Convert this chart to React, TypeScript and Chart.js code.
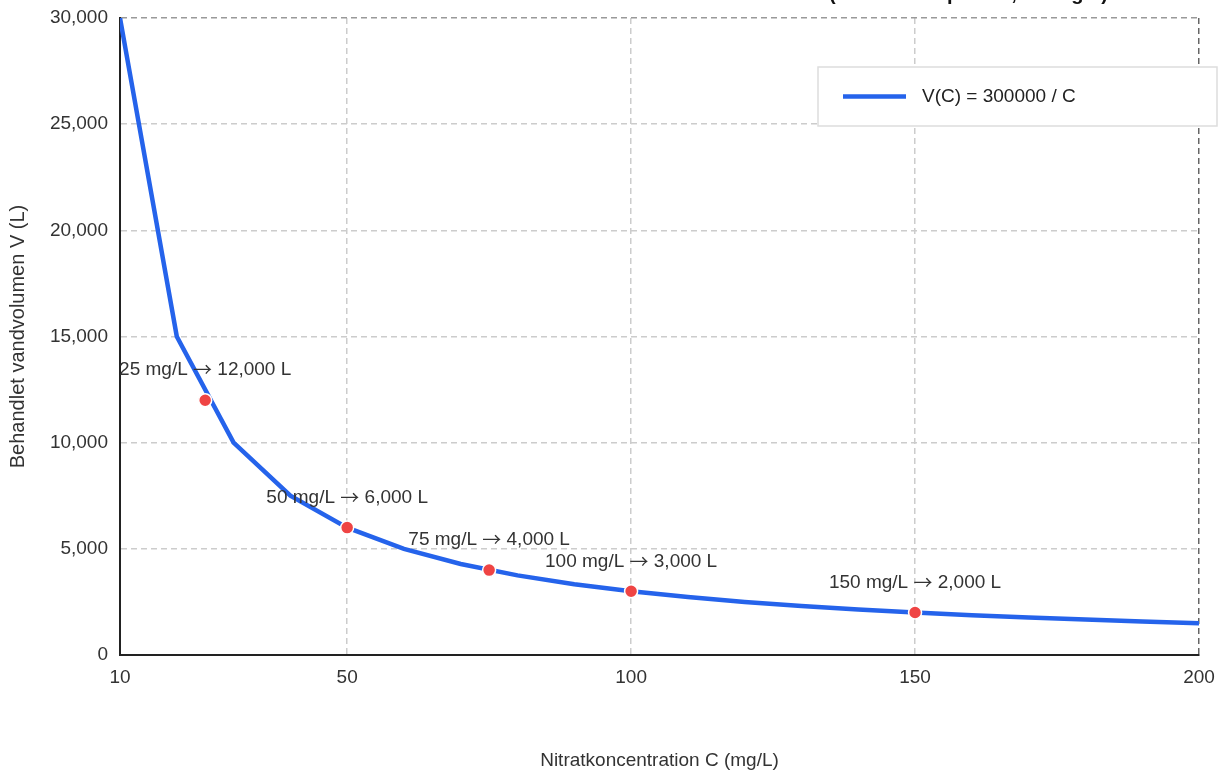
import React, { useEffect, useRef } from "react";
import { Chart, registerables } from "chart.js";

Chart.register(...registerables);

// ---- data ----
const concentrations = [10, 20, 30, 40, 50, 60, 70, 80, 90, 100, 110, 120, 130, 140, 150, 160, 170, 180, 190, 200];
const volumes = [30000, 15000, 10000, 7500, 6000, 5000, 4286, 3750, 3333, 3000, 2727, 2500, 2308, 2143, 2000, 1875, 1765, 1667, 1579, 1500];
const markerC = [25, 50, 75, 100, 150];
const markerV = [12000, 6000, 4000, 3000, 2000];
const markerLabels = [
  "25 mg/L → 12,000 L",
  "50 mg/L → 6,000 L",
  "75 mg/L → 4,000 L",
  "100 mg/L → 3,000 L",
  "150 mg/L → 2,000 L",
];
const xTicks = [10, 50, 100, 150, 200];
const yMin = 0;
const yMax = 30000;
const yStep = 5000;
const legendLabel = "V(C) = 300000 / C";
const titleText = "Behandlet vandvolumen som funktion af nitratkoncentration (konstant kapacitet, C i mg/L)";
const xTitle = "Nitratkoncentration C (mg/L)";
const yTitle = "Behandlet vandvolumen V (L)";

const FONT = "'Liberation Sans', Arial, sans-serif";
const ARROW_FONT = "'Noto Sans CJK SC', 'DejaVu Sans', sans-serif";
const BLUE = "#2563eb";
const RED = "#ef4444";
const TEXT = "#333333";

function drawLabel(ctx: CanvasRenderingContext2D, text: string, cx: number, cy: number) {
  const parts = text.split("→");
  const mainFont = `19px ${FONT}`;
  const arrowFont = `19px ${ARROW_FONT}`;
  ctx.font = mainFont;
  const w0 = ctx.measureText(parts[0]).width;
  const w2 = parts.length > 1 ? ctx.measureText(parts[1]).width : 0;
  ctx.font = arrowFont;
  const wa = parts.length > 1 ? ctx.measureText("→").width : 0;
  let x = cx - (w0 + wa + w2) / 2;
  ctx.textAlign = "left";
  ctx.textBaseline = "middle";
  ctx.font = mainFont;
  ctx.fillText(parts[0], x, cy);
  x += w0;
  if (parts.length > 1) {
    ctx.font = arrowFont;
    ctx.fillText("→", x, cy);
    x += wa;
    ctx.font = mainFont;
    ctx.fillText(parts[1], x, cy);
  }
}

const overlayPlugin = {
  id: "overlay",
  afterDatasetsDraw(chart: any) {
    const { ctx, scales } = chart;
    ctx.save();
    ctx.fillStyle = TEXT;
    markerC.forEach((c, i) => {
      const x = scales.x.getPixelForValue(c);
      const y = scales.y.getPixelForValue(markerV[i]);
      drawLabel(ctx, markerLabels[i], x, y - 30);
    });
    ctx.restore();
  },
  afterDraw(chart: any) {
    const { ctx, chartArea } = chart;
    ctx.save();
    // title (mostly above the visible page)
    ctx.font = `bold 20px ${FONT}`;
    ctx.fillStyle = "#111111";
    ctx.textAlign = "right";
    ctx.textBaseline = "alphabetic";
    ctx.fillText(titleText, 1108, 0);

    // legend box
    const bx = chartArea.right - 381;
    const by = chartArea.top + 49;
    const bw = 399;
    const bh = 59;
    ctx.fillStyle = "#ffffff";
    ctx.fillRect(bx, by, bw, bh);
    ctx.strokeStyle = "#dddddd";
    ctx.lineWidth = 1.5;
    ctx.strokeRect(bx, by, bw, bh);
    const ly = by + bh / 2;
    ctx.strokeStyle = BLUE;
    ctx.lineWidth = 4.5;
    ctx.beginPath();
    ctx.moveTo(bx + 25, ly);
    ctx.lineTo(bx + 88, ly);
    ctx.stroke();
    ctx.font = `19px ${FONT}`;
    ctx.fillStyle = "#222222";
    ctx.textAlign = "left";
    ctx.textBaseline = "middle";
    ctx.fillText(legendLabel, bx + 104, ly);
    ctx.restore();
  },
};

export default function App() {
  const canvasRef = useRef<HTMLCanvasElement | null>(null);

  useEffect(() => {
    if (!canvasRef.current) return;
    const chart = new Chart(canvasRef.current, {
      type: "line",
      data: {
        datasets: [
          {
            label: legendLabel,
            data: concentrations.map((c, i) => ({ x: c, y: volumes[i] })),
            borderColor: BLUE,
            backgroundColor: BLUE,
            borderWidth: 4.5,
            pointRadius: 0,
            tension: 0,
            fill: false,
            order: 2,
          },
          {
            label: "markers",
            data: markerC.map((c, i) => ({ x: c, y: markerV[i] })),
            showLine: false,
            pointRadius: 6.5,
            pointBackgroundColor: RED,
            pointBorderColor: "#ffffff",
            pointBorderWidth: 1.5,
            borderColor: RED,
            backgroundColor: RED,
            order: 1,
          },
        ],
      },
      options: {
        responsive: false,
        animation: false,
        devicePixelRatio: 1,
        layout: { padding: { top: 18, right: 23, left: 0, bottom: 0 } },
        plugins: {
          legend: { display: false },
          tooltip: { enabled: false },
          title: { display: false },
        },
        scales: {
          x: {
            type: "linear",
            min: 10,
            max: 200,
            afterBuildTicks: (scale: any) => {
              scale.ticks = xTicks.map((v) => ({ value: v }));
            },
            afterFit: (scale: any) => {
              scale.height = 115;
              scale.paddingLeft = 0;
              scale.paddingRight = 0;
            },
            ticks: {
              padding: 11,
              color: TEXT,
              font: { family: FONT, size: 19 },
              maxRotation: 0,
              callback: (v: any) => String(v),
            },
            grid: {
              color: (ctx: any) => (ctx.tick && ctx.tick.value === 200 ? "#666666" : "#cccccc"),
              lineWidth: 1.5,
              drawTicks: false,
            },
            border: { display: true, color: "#222222", width: 2, dash: [6, 4] },
            title: {
              display: true,
              text: xTitle,
              color: TEXT,
              font: { family: FONT, size: 19, lineHeight: 1 },
              padding: { top: 0, bottom: 0 },
            },
          },
          y: {
            min: yMin,
            max: yMax,
            afterFit: (scale: any) => {
              scale.width = 120;
              scale.paddingTop = 0;
              scale.paddingBottom = 0;
            },
            ticks: {
              stepSize: yStep,
              padding: 12,
              color: TEXT,
              font: { family: FONT, size: 19 },
              callback: (v: any) => Number(v).toLocaleString("en-US"),
            },
            grid: {
              color: (ctx: any) => (ctx.tick && ctx.tick.value === yMax ? "#999999" : "#cccccc"),
              lineWidth: 1.5,
              drawTicks: false,
            },
            border: { display: true, color: "#222222", width: 2, dash: [6, 4] },
            title: {
              display: true,
              text: yTitle,
              color: TEXT,
              font: { family: FONT, size: 20 },
              padding: { top: 6, bottom: 0 },
            },
          },
        },
      },
      plugins: [overlayPlugin],
    } as any);
    return () => chart.destroy();
  }, []);

  return (
    <div style={{ position: "absolute", left: 0, top: 0, width: 1222, height: 770, background: "#ffffff" }}>
      <canvas ref={canvasRef} width={1222} height={770} style={{ display: "block", width: 1222, height: 770 }} />
    </div>
  );
}
